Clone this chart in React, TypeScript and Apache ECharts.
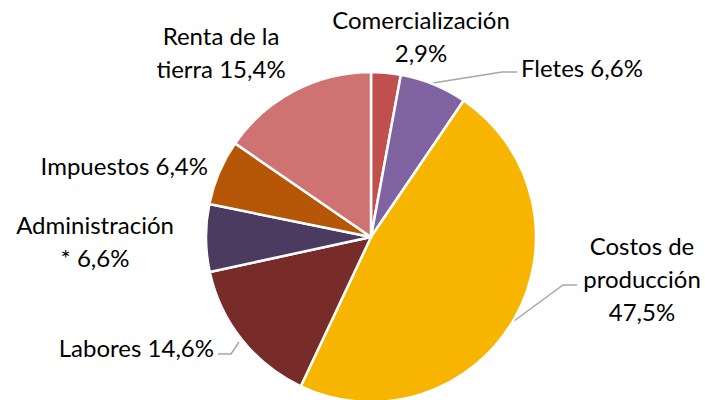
import React, { useEffect, useRef } from "react";
import * as echarts from "echarts";

const categories = [
  "Comercialización",
  "Fletes",
  "Costos de producción",
  "Labores",
  "Administración *",
  "Impuestos",
  "Renta de la tierra",
];
const values = [2.9, 6.6, 47.5, 14.6, 6.6, 6.4, 15.4];
const displayNames = [
  "Comercialización\n",
  "Fletes ",
  "Costos de\nproducción\n",
  "Labores ",
  "Administración\n* ",
  "Impuestos ",
  "Renta de la\ntierra ",
];
const colors = ["#C0504D", "#8064A2", "#F7B500", "#772C2A", "#4B3B61", "#B65708", "#CE7371"];

// label layout (center/anchor points and leader lines)
const labelPos: any[] = [
  { x: 421, y: 36, align: "center" },
  { x: 521, y: 67, align: "left", line: [[433, 83], [502, 72], [517, 72]] },
  { x: 642, y: 278, align: "center", line: [[514, 321], [563, 285], [577, 285]] },
  { x: 214, y: 347, align: "right", line: [[218, 354], [231, 354], [239, 342]] },
  { x: 95, y: 241, align: "center" },
  { x: 208, y: 165, align: "right" },
  { x: 221, y: 52, align: "center" },
];

export default function App() {
  const ref = useRef<HTMLDivElement>(null);
  useEffect(() => {
    if (!ref.current) return;
    const chart = echarts.init(ref.current, undefined, { renderer: "svg" });
    chart.setOption({
      animation: false,
      backgroundColor: "#ffffff",
      series: [
        {
          type: "pie",
          center: [371, 237],
          radius: 165,
          startAngle: 90,
          clockwise: true,
          data: categories.map((c, i) => ({
            name: c,
            value: values[i],
            itemStyle: { color: colors[i] },
            labelLine: { show: !!labelPos[i].line },
          })),
          itemStyle: { borderColor: "#ffffff", borderWidth: 2.5 },
          label: {
            show: true,
            position: "outside",
            overflow: "none",
            color: "#000000",
            fontFamily: "Lato",
            fontSize: 24,
            lineHeight: 33,
            formatter: (p: any) =>
              displayNames[p.dataIndex] + values[p.dataIndex].toFixed(1).replace(".", ",") + "%",
          },
          labelLine: {
            lineStyle: { color: "#A6A6A6", width: 1.5 },
          },
          labelLayout: (params: any) => {
            const lp = labelPos[params.dataIndex];
            const out: any = {
              x: lp.x,
              y: lp.y,
              align: lp.align,
              verticalAlign: "middle",
              width: 300,
            };
            if (lp.line) out.labelLinePoints = lp.line;
            return out;
          },
        },
      ],
    });
    return () => chart.dispose();
  }, []);
  return (
    <div
      ref={ref}
      style={{ position: "absolute", left: 0, top: 0, width: 705, height: 400 }}
    />
  );
}
